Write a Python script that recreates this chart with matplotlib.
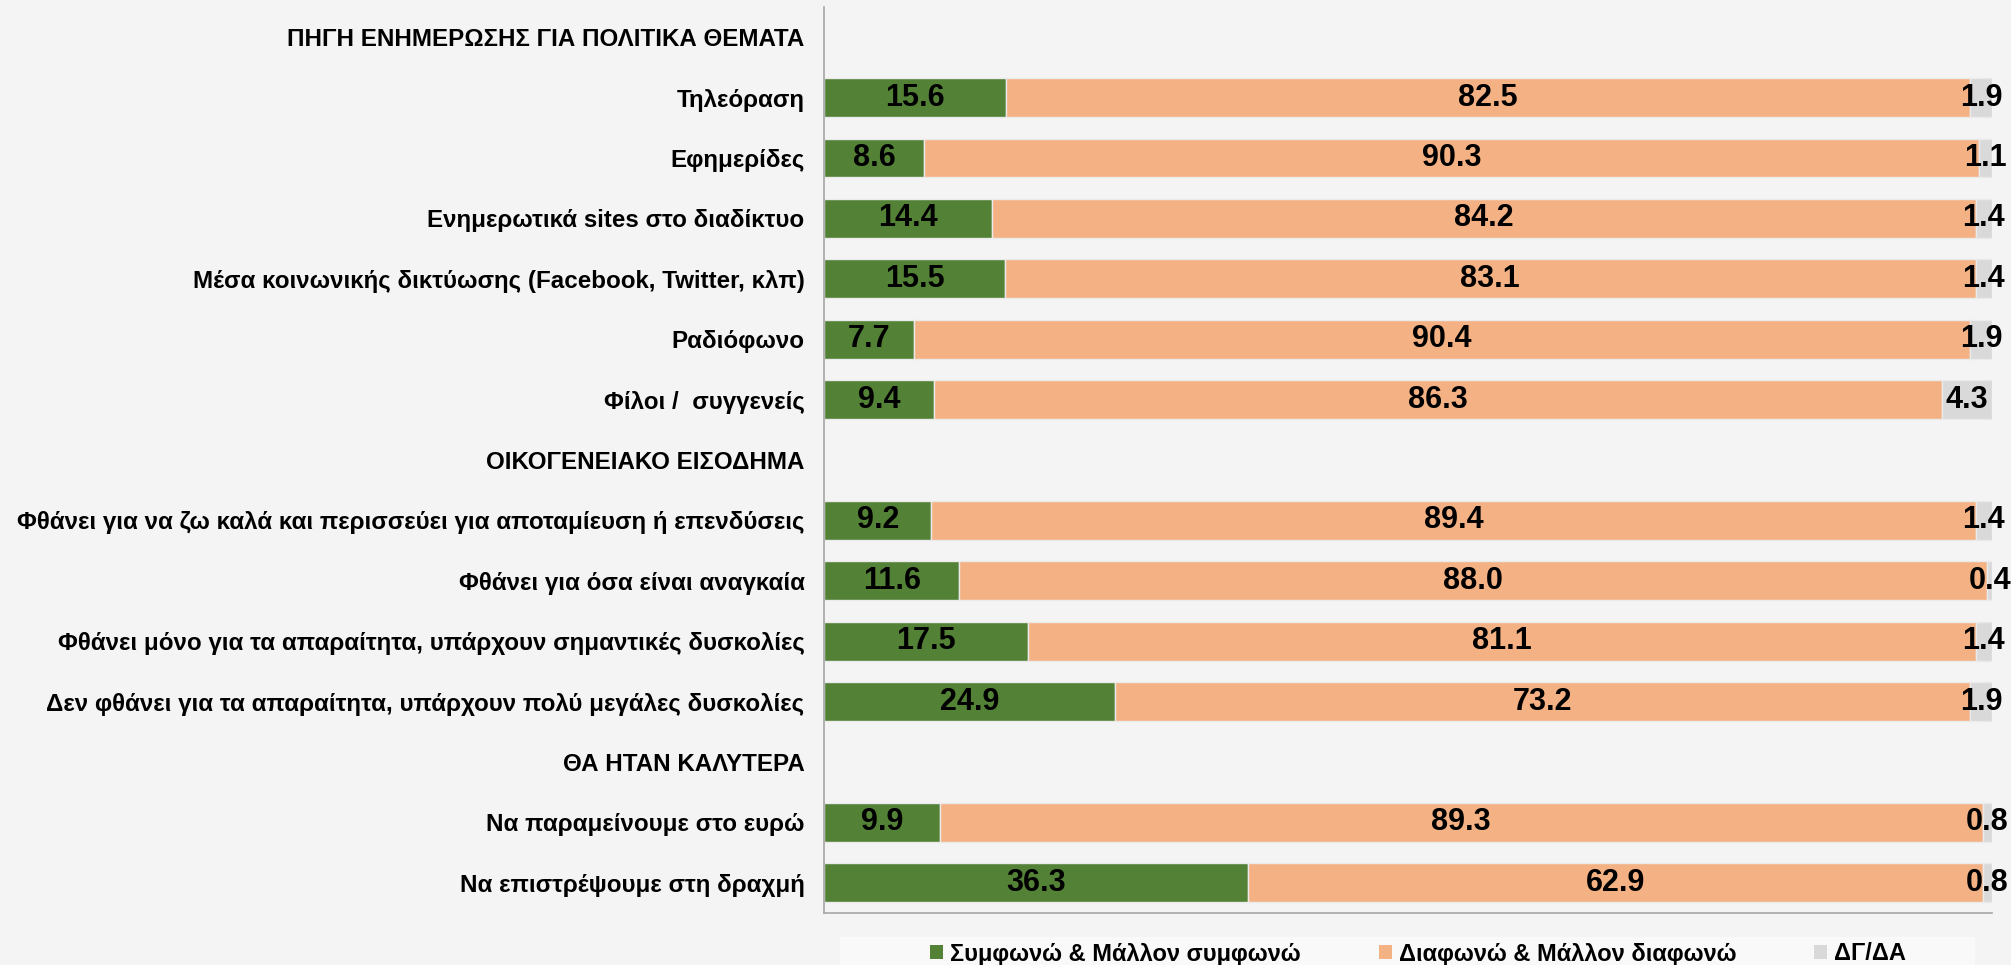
import matplotlib
matplotlib.use("Agg")
import matplotlib.pyplot as plt
from matplotlib.patches import Rectangle, Patch

plt.rcParams['font.family'] = ['Liberation Sans', 'DejaVu Sans']

categories = [
    "ΠΗΓΗ ΕΝΗΜΕΡΩΣΗΣ ΓΙΑ ΠΟΛΙΤΙΚΑ ΘΕΜΑΤΑ",
    "Τηλεόραση",
    "Εφημερίδες",
    "Ενημερωτικά sites στο διαδίκτυο",
    "Μέσα κοινωνικής δικτύωσης (Facebook, Twitter, κλπ)",
    "Ραδιόφωνο",
    "Φίλοι /  συγγενείς",
    "ΟΙΚΟΓΕΝΕΙΑΚΟ ΕΙΣΟΔΗΜΑ",
    "Φθάνει για να ζω καλά και περισσεύει για αποταμίευση ή επενδύσεις",
    "Φθάνει για όσα είναι αναγκαία",
    "Φθάνει μόνο για τα απαραίτητα, υπάρχουν σημαντικές δυσκολίες",
    "Δεν φθάνει για τα απαραίτητα, υπάρχουν πολύ μεγάλες δυσκολίες",
    "ΘΑ ΗΤΑΝ ΚΑΛΥΤΕΡΑ",
    "Να παραμείνουμε στο ευρώ",
    "Να επιστρέψουμε στη δραχμή",
]
agree =    [None, 15.6, 8.6, 14.4, 15.5, 7.7, 9.4, None, 9.2, 11.6, 17.5, 24.9, None, 9.9, 36.3]
disagree = [None, 82.5, 90.3, 84.2, 83.1, 90.4, 86.3, None, 89.4, 88.0, 81.1, 73.2, None, 89.3, 62.9]
dkna =     [None, 1.9, 1.1, 1.4, 1.4, 1.9, 4.3, None, 1.4, 0.4, 1.4, 1.9, None, 0.8, 0.8]
series_names = ["Συμφωνώ & Μάλλον συμφωνώ", "Διαφωνώ & Μάλλον διαφωνώ", "ΔΓ/ΔΑ"]
colors = ["#538135", "#F4B183", "#D9D9D9"]

bg = "#F4F4F4"
fig = plt.figure(figsize=(20.11, 9.65), dpi=100, facecolor=bg)
ax = fig.add_axes([824/2011, 1-913/965, (1992-824)/2011, (913-7)/965])
ax.set_facecolor(bg)

bar_h = 0.64
for i, cat in enumerate(categories):
    if agree[i] is None:
        continue
    left = 0
    for val, col in zip([agree[i], disagree[i], dkna[i]], colors):
        ax.barh(i, val, left=left, height=bar_h, color=col, edgecolor="#EAEAEA", linewidth=1)
        ax.text(left + val/2, i, f"{val:.1f}", ha="center", va="center",
                fontsize=22, fontweight="bold", color="black")
        left += val

ax.set_xlim(0, 100)
ax.set_ylim(14.5, -0.5)
ax.set_yticks(range(len(categories)))
ax.set_yticklabels(categories, fontsize=17.4, fontweight="bold")
ax.tick_params(axis="y", length=0, pad=14)
ax.set_xticks([])
for s in ["top", "right"]:
    ax.spines[s].set_visible(False)
for s in ["left", "bottom"]:
    ax.spines[s].set_color("#A6A6A6")
    ax.spines[s].set_linewidth(1.2)

# legend background box
fig.patches.append(Rectangle((840/2011, 0), (1975-840)/2011, (965-937)/965,
                             transform=fig.transFigure, facecolor="#F9F9F9",
                             edgecolor="none", zorder=0))
handles = [Patch(facecolor=c, edgecolor="none") for c in colors]
fig.legend(handles, series_names, loc="center", bbox_to_anchor=((923+1913)/2/2011, 1-954/965),
           ncol=3, frameon=False, prop={"size": 17, "weight": "bold"},
           handlelength=0.55, handleheight=0.55, handletextpad=0.3, columnspacing=3.3,
           borderpad=0)

fig.savefig("out.png", dpi=100, facecolor=bg)
